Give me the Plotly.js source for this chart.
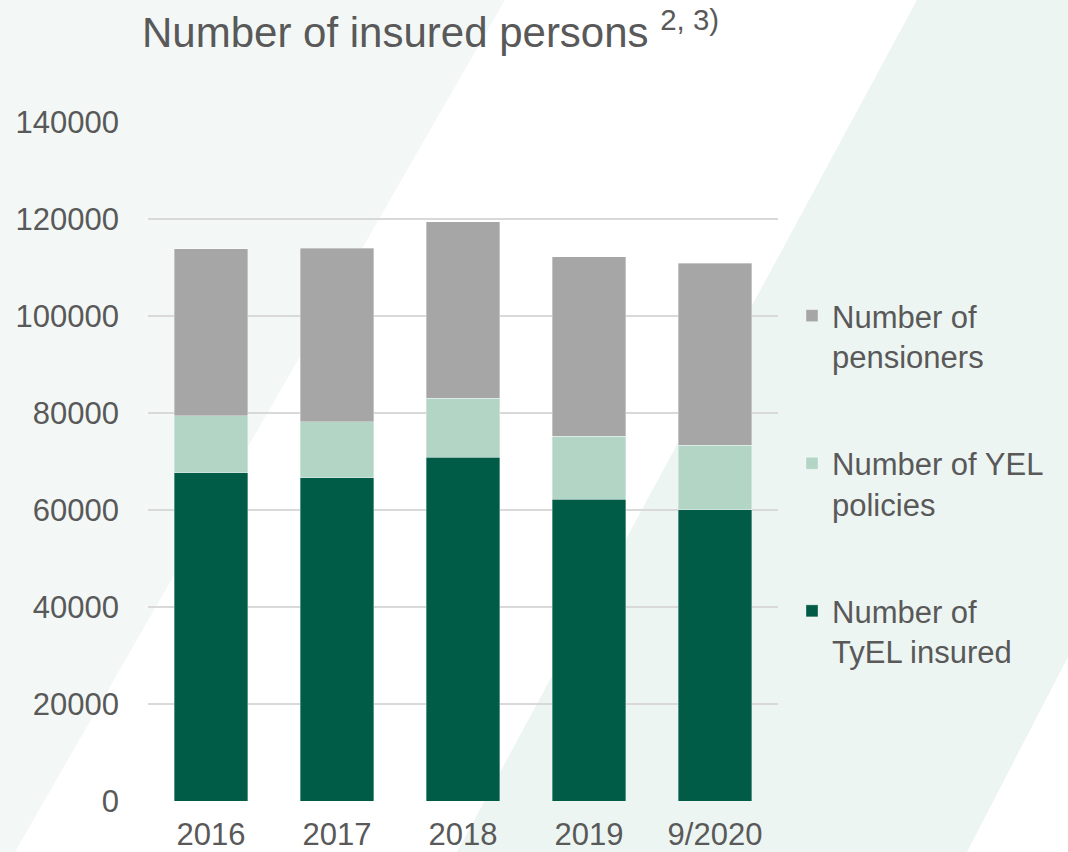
<!DOCTYPE html>
<html>
<head>
<meta charset="utf-8">
<script src="https://cdn.plot.ly/plotly-3.0.1.min.js"></script>
<style>
  html, body { margin: 0; padding: 0; background: #ffffff; }
  #chart { width: 1068px; height: 852px; }
</style>
</head>
<body>
<div id="chart"></div>
<script>
// ---- Data ----
const categories = ["2016", "2017", "2018", "2019", "9/2020"];
const tyelInsured = [67700, 66700, 70900, 62200, 60100];
const yelPolicies = [11700, 11500, 12100, 13000, 13300];
const pensioners = [34500, 35800, 36400, 37000, 37500];
const seriesNames = ["Number of<br>TyEL insured", "Number of YEL<br>policies", "Number of<br>pensioners"];
const yTicks = [0, 20000, 40000, 60000, 80000, 100000, 120000, 140000];

// ---- Styling ----
const W = 1068, H = 852;
const M = { l: 148, r: 290, t: 122, b: 51 };
const PW = W - M.l - M.r, PH = H - M.t - M.b;
const px = x => (x - M.l) / PW;
const py = y => (H - M.b - y) / PH;
const poly = pts => "M" + pts.map(p => px(p[0]).toFixed(4) + "," + py(p[1]).toFixed(4)).join(" L") + " Z";

const FONT = "Liberation Sans, Arial, Helvetica, sans-serif";
const TEXT = "#595959";
const colors = ["#005c47", "#b3d5c6", "#a6a6a6"];
const ranks = [3, 2, 1];
const values = [tyelInsured, yelPolicies, pensioners];

const traces = values.map((v, i) => ({
  type: "bar",
  name: seriesNames[i],
  x: categories,
  y: v,
  legendgroup: "g" + i,
  legendrank: ranks[i],
  marker: { color: colors[i], line: { color: "rgba(255,255,255,0.45)", width: 0.75 } },
  hoverinfo: "skip"
}));

const layout = {
  width: W, height: H,
  margin: M,
  paper_bgcolor: "#ffffff",
  plot_bgcolor: "rgba(0,0,0,0)",
  barmode: "stack",
  bargap: 0.42,
  font: { family: FONT, color: TEXT, size: 31 },
  title: {
    text: "Number of insured persons <sup>2, 3)</sup>",
    font: { family: FONT, size: 42, color: TEXT },
    xref: "container", yref: "container",
    x: 142 / W, xanchor: "left",
    y: 1 - 18 / H, yanchor: "top"
  },
  xaxis: {
    type: "category",
    showgrid: false, zeroline: false, showline: false,
    ticks: "",
    ticklabelstandoff: 12,
    tickfont: { family: FONT, size: 31, color: TEXT },
    fixedrange: true
  },
  yaxis: {
    range: [0, 140000],
    tickvals: yTicks,
    ticktext: yTicks.map(String),
    showgrid: true, gridcolor: "#d9d9d9", gridwidth: 1.5,
    zeroline: false, showline: false,
    ticks: "",
    ticklabelstandoff: 28,
    tickfont: { family: FONT, size: 31, color: TEXT },
    fixedrange: true
  },
  legend: {
    xref: "container", yref: "container",
    x: 792 / W, xanchor: "left",
    y: 1 - 289 / H, yanchor: "top",
    traceorder: "grouped",
    tracegroupgap: 64,
    valign: "top",
    bgcolor: "rgba(0,0,0,0)",
    font: { family: FONT, size: 31, color: TEXT }
  },
  shapes: [
    { type: "path", xref: "paper", yref: "paper", layer: "below",
      path: poly([[0, 0], [505, 0], [15, 852], [0, 852]]),
      fillcolor: "#f3f8f6", line: { width: 0 } },
    { type: "path", xref: "paper", yref: "paper", layer: "below",
      path: poly([[917, 0], [1068, 0], [1068, 657], [967, 852], [457, 852]]),
      fillcolor: "#edf5f2", line: { width: 0 } }
  ],
  showlegend: true
};

Plotly.newPlot("chart", traces, layout, { displayModeBar: false, staticPlot: true });
</script>
</body>
</html>
